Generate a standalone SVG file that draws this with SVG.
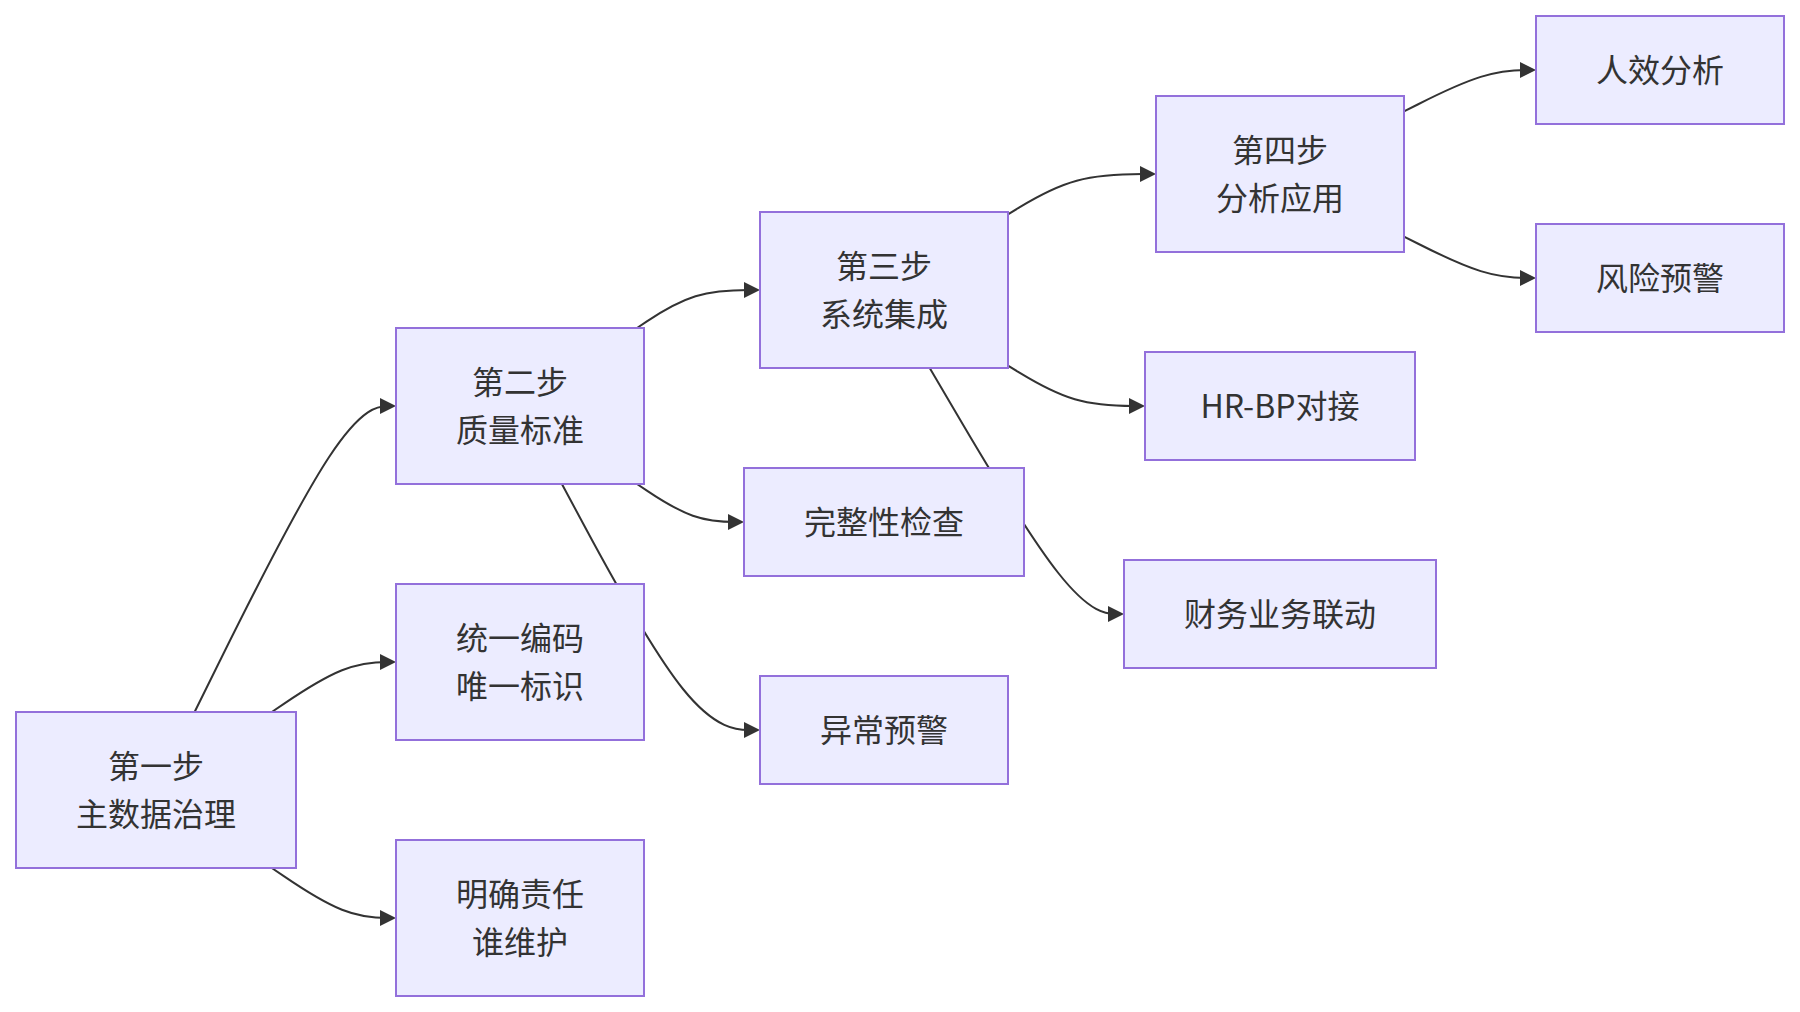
<svg xmlns="http://www.w3.org/2000/svg" width="1800" height="1012" viewBox="0 0 1800 1012">
<defs>
<style>
.node rect{fill:#ECECFF;stroke:#9370DB;stroke-width:2}
.node text{font-family:"Noto Sans CJK SC",sans-serif;font-size:32px;fill:#333;text-anchor:middle;dominant-baseline:central}
.edge{fill:none;stroke:#333;stroke-width:2;marker-end:url(#arrow)}
</style>
<marker id="arrow" viewBox="0 0 10 10" refX="5" refY="5" markerWidth="8" markerHeight="8" markerUnits="strokeWidth" orient="auto">
<path d="M0,0 L10,5 L0,10 z" fill="#333" stroke="none"/>
</marker>
</defs>
<rect width="1800" height="1012" fill="#ffffff"/>
<g id="edges">
<path class="edge" d="M194.6,712 L219.8,661 C245.1,610 295.5,508 329.1,457 C362.7,406 379.3,406 388,406"/>
<path class="edge" d="M271.8,712 L284.2,703.7 C296.5,695.3 321.3,678.7 342,670.3 C362.7,662 379.3,662 388,662"/>
<path class="edge" d="M271.8,868 L284.2,876.3 C296.5,884.7 321.3,901.3 342,909.7 C362.7,918 379.3,918 388,918"/>
<path class="edge" d="M637,328 L646.5,321.7 C656,315.3 675,302.7 695.5,296.3 C716,290 738,290 749,290 L752,290"/>
<path class="edge" d="M637,484 L646.5,490.3 C656,496.7 675,509.3 692.8,515.7 C710.7,522 727.3,522 736,522"/>
<path class="edge" d="M561.9,484 L583.9,525 C605.9,566 650,648 683,689 C716,730 738,730 749,730 L752,730"/>
<path class="edge" d="M1008,214.3 L1019,207.6 C1030,200.9 1052,187.4 1076.7,180.7 C1101.3,174 1128.7,174 1142.3,174 L1148,174"/>
<path class="edge" d="M1008,365.7 L1019,372.4 C1030,379.1 1052,392.6 1074.8,399.3 C1097.7,406 1121.3,406 1133.2,406 L1137,406"/>
<path class="edge" d="M929.7,368 L953.8,409 C977.8,450 1025.9,532 1058.3,573 C1090.7,614 1107.3,614 1116,614"/>
<path class="edge" d="M1404,111.4 L1417.7,104.5 C1431.3,97.6 1458.7,83.8 1480.7,76.9 C1502.7,70 1519.3,70 1528,70"/>
<path class="edge" d="M1404,236.6 L1417.7,243.5 C1431.3,250.4 1458.7,264.2 1480.7,271.1 C1502.7,278 1519.3,278 1528,278"/>
</g>
<g id="A" class="node"><rect x="16" y="712" width="280" height="156"/><text x="156" y="764">第一步</text><text x="156" y="812">主数据治理</text></g>
<g id="B" class="node"><rect x="396" y="328" width="248" height="156"/><text x="520" y="380">第二步</text><text x="520" y="428">质量标准</text></g>
<g id="C" class="node"><rect x="396" y="584" width="248" height="156"/><text x="520" y="636">统一编码</text><text x="520" y="684">唯一标识</text></g>
<g id="D" class="node"><rect x="396" y="840" width="248" height="156"/><text x="520" y="892">明确责任</text><text x="520" y="940">谁维护</text></g>
<g id="E" class="node"><rect x="760" y="212" width="248" height="156"/><text x="884" y="264">第三步</text><text x="884" y="312">系统集成</text></g>
<g id="F" class="node"><rect x="744" y="468" width="280" height="108"/><text x="884" y="520">完整性检查</text></g>
<g id="G" class="node"><rect x="760" y="676" width="248" height="108"/><text x="884" y="728">异常预警</text></g>
<g id="H" class="node"><rect x="1156" y="96" width="248" height="156"/><text x="1280" y="148">第四步</text><text x="1280" y="196">分析应用</text></g>
<g id="I" class="node"><rect x="1145" y="352" width="270" height="108"/><text x="1280" y="404">HR-BP对接</text></g>
<g id="J" class="node"><rect x="1124" y="560" width="312" height="108"/><text x="1280" y="612">财务业务联动</text></g>
<g id="K" class="node"><rect x="1536" y="16" width="248" height="108"/><text x="1660" y="68">人效分析</text></g>
<g id="L" class="node"><rect x="1536" y="224" width="248" height="108"/><text x="1660" y="276">风险预警</text></g>
</svg>
